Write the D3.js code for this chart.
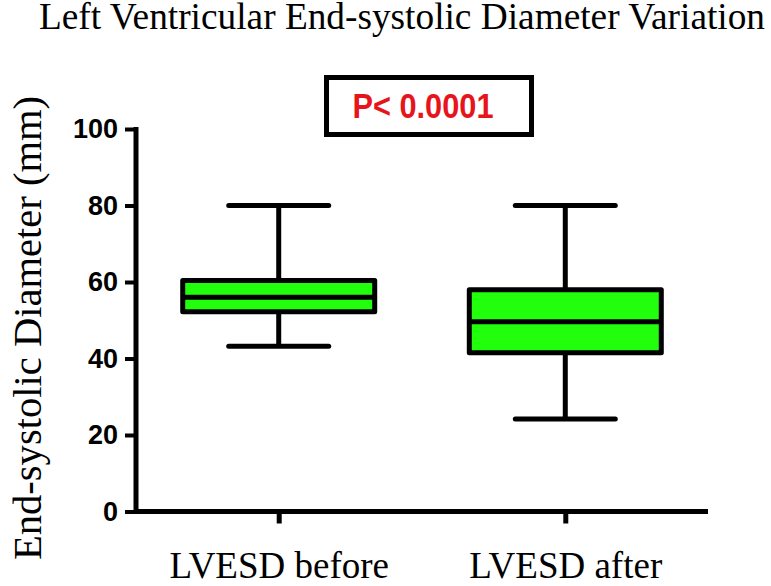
<!DOCTYPE html>
<html>
<head>
<meta charset="utf-8">
<script src="https://cdn.jsdelivr.net/npm/d3@7/dist/d3.min.js"></script>
<style>
  html, body { margin: 0; padding: 0; background: #fff; }
  svg { display: block; }
</style>
</head>
<body>
<svg id="chart" width="771" height="586"></svg>
<script>
// ---- data ----
const categories = ["LVESD before", "LVESD after"];
const whiskerLow  = [43.2, 24.2];
const q1          = [52.2, 41.5];
const median      = [56.0, 49.6];
const q3          = [60.4, 58.0];
const whiskerHigh = [80.0, 80.0];
const yTicks = [0, 20, 40, 60, 80, 100];
const titleText = "Left Ventricular End-systolic Diameter Variation";
const yLabelText = "End-systolic Diameter (mm)";
const pText = "P< 0.0001";

const svg = d3.select("#chart");

const y = d3.scaleLinear().domain([0, 100]).range([511.5, 129]);
const x = d3.scalePoint().domain(categories).range([136, 708]).padding(0.498);

const boxW = 192, capW = 100, sw = 5;

// title
svg.append("text")
  .attr("x", 402).attr("y", 29)
  .attr("text-anchor", "middle")
  .attr("font-family", "Liberation Serif, Times New Roman, serif")
  .attr("font-size", 37)
  .attr("fill", "#000")
  .attr("textLength", 726)
  .attr("lengthAdjust", "spacingAndGlyphs")
  .text(titleText);

// y axis label
svg.append("text")
  .attr("transform", "translate(41,328) rotate(-90)")
  .attr("text-anchor", "middle")
  .attr("font-family", "Liberation Serif, Times New Roman, serif")
  .attr("font-size", 40)
  .attr("fill", "#000")
  .attr("textLength", 464)
  .attr("lengthAdjust", "spacingAndGlyphs")
  .text(yLabelText);

// axes
const yAxis = d3.axisLeft(y).tickValues(yTicks).tickSize(11).tickPadding(7);
const gy = svg.append("g").attr("transform", "translate(136,0)").call(yAxis);
gy.select(".domain").attr("stroke", "#000").attr("stroke-width", sw)
  .attr("d", `M0,${y(100)-2}V${y(0)+2}`);
gy.selectAll(".tick line").attr("stroke", "#000").attr("stroke-width", 4);
gy.selectAll(".tick text")
  .attr("font-family", "Liberation Sans, Arial, sans-serif")
  .attr("font-weight", "bold")
  .attr("font-size", 27)
  .attr("fill", "#000");

const xAxis = d3.axisBottom(x).tickSize(12);
const gx = svg.append("g").attr("transform", `translate(0,${y(0)})`).call(xAxis);
gx.select(".domain").attr("stroke", "#000").attr("stroke-width", sw)
  .attr("d", `M134,0H708`);
gx.selectAll(".tick line").attr("stroke", "#000").attr("stroke-width", 5);
gx.selectAll(".tick text")
  .attr("font-family", "Liberation Serif, Times New Roman, serif")
  .attr("font-size", 37)
  .attr("dy", null)
  .attr("y", 66)
  .attr("fill", "#000");

// boxes
const data = categories.map((c, i) => ({
  c, lo: whiskerLow[i], q1: q1[i], med: median[i], q3: q3[i], hi: whiskerHigh[i]
}));

const g = svg.append("g").selectAll("g").data(data).join("g");

// whisker verticals
g.append("line")
  .attr("x1", d => x(d.c)).attr("x2", d => x(d.c))
  .attr("y1", d => y(d.hi)).attr("y2", d => y(d.q3))
  .attr("stroke", "#000").attr("stroke-width", sw);
g.append("line")
  .attr("x1", d => x(d.c)).attr("x2", d => x(d.c))
  .attr("y1", d => y(d.q1)).attr("y2", d => y(d.lo))
  .attr("stroke", "#000").attr("stroke-width", sw);
// caps
["hi", "lo"].forEach(k => {
  g.append("line")
    .attr("x1", d => x(d.c) - capW / 2).attr("x2", d => x(d.c) + capW / 2)
    .attr("y1", d => y(d[k])).attr("y2", d => y(d[k]))
    .attr("stroke", "#000").attr("stroke-width", sw)
    .attr("stroke-linecap", "round");
});
// box
g.append("rect")
  .attr("x", d => x(d.c) - boxW / 2)
  .attr("width", boxW)
  .attr("y", d => y(d.q3))
  .attr("height", d => y(d.q1) - y(d.q3))
  .attr("fill", "#22ff0c")
  .attr("stroke", "#000").attr("stroke-width", sw)
  .attr("stroke-linejoin", "round");
// median
g.append("line")
  .attr("x1", d => x(d.c) - boxW / 2).attr("x2", d => x(d.c) + boxW / 2)
  .attr("y1", d => y(d.med)).attr("y2", d => y(d.med))
  .attr("stroke", "#000").attr("stroke-width", sw);

// p-value box
svg.append("rect")
  .attr("x", 326.5).attr("y", 77.5)
  .attr("width", 205).attr("height", 57)
  .attr("fill", "#fff")
  .attr("stroke", "#000").attr("stroke-width", 5);
svg.append("text")
  .attr("x", 423).attr("y", 118)
  .attr("text-anchor", "middle")
  .attr("font-family", "Liberation Sans, Arial, sans-serif")
  .attr("font-weight", "bold")
  .attr("font-size", 35)
  .attr("fill", "#e8141c")
  .attr("textLength", 141)
  .attr("lengthAdjust", "spacingAndGlyphs")
  .text(pText);
</script>
</body>
</html>
